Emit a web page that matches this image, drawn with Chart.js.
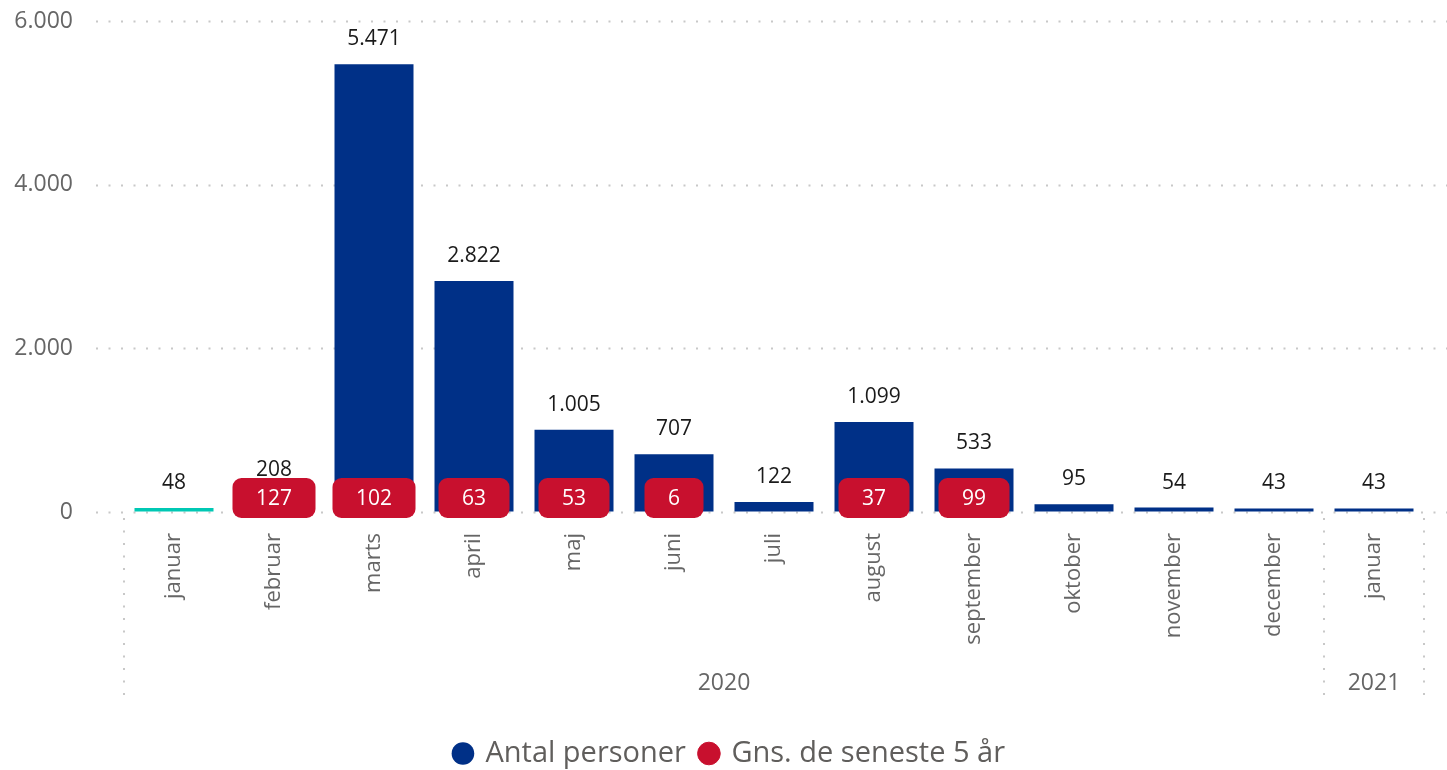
<!DOCTYPE html>
<html>
<head>
<meta charset="utf-8">
<title>Antal personer</title>
<script src="https://cdn.jsdelivr.net/npm/chart.js@4.4.1/dist/chart.umd.min.js"></script>
<style>
  html, body { margin: 0; padding: 0; background: #fff; }
  #wrap { width: 1447px; height: 770px; position: relative; }
</style>
</head>
<body>
<div id="wrap"><canvas id="barChart"></canvas></div>
<script>
// data
var months = ['januar', 'februar', 'marts', 'april', 'maj', 'juni', 'juli', 'august', 'september', 'oktober', 'november', 'december', 'januar'];
var yearLabels = ['2020', '2021'];
var monthsPerYear = [12, 1];
var antalPersoner = [48, 208, 5471, 2822, 1005, 707, 122, 1099, 533, 95, 54, 43, 43];
var gnsSeneste5Aar = [null, 127, 102, 63, 53, 6, null, 37, 99, null, null, null, null];
var yTicks = [0, 2000, 4000, 6000];

var BLUE = '#003087';
var TEAL = '#00c8b4';
var RED = '#c8102e';
var GREY = '#666666';
var DOTS = '#c8c8c8';
var FONT = '"Open Sans", "Noto Sans", sans-serif';

function fmt(v) {
    return String(v).replace(/\B(?=(\d{3})+(?!\d))/g, '.');
}

function dotted(ctx, x1, y1, x2, y2) {
    ctx.save();
    ctx.strokeStyle = DOTS;
    ctx.lineWidth = 2;
    ctx.setLineDash([2, 10.5]);
    ctx.beginPath();
    ctx.moveTo(x1, y1);
    ctx.lineTo(x2, y2);
    ctx.stroke();
    ctx.restore();
}

// dotted y grid, running a bit left of the plot like the original
var gridPlugin = {
    id: 'dotGrid',
    afterLayout: function(chart) {
        // legend sits a little right of centre and lower in the original
        chart.legend.left += 18;
        chart.legend.right += 18;
        chart.legend.top += 8;
        chart.legend.bottom += 8;
    },
    beforeDatasetsDraw: function(chart) {
        var y = chart.scales.y;
        var ctx = chart.ctx;
        y.ticks.forEach(function(t) {
            var py = Math.round(y.getPixelForValue(t.value)) + 0.5;
            dotted(ctx, chart.chartArea.left - 28, py, chart.width, py);
        });
    }
};

// year groups under the month labels
var yearPlugin = {
    id: 'years',
    afterDraw: function(chart) {
        var x = chart.scales.x;
        var ctx = chart.ctx;
        var half = (x.getPixelForValue(1) - x.getPixelForValue(0)) / 2;
        var top = chart.chartArea.bottom + 6;
        var bottom = chart.chartArea.bottom + 190;
        var start = 0;
        var bx = x.getPixelForValue(0) - half;
        dotted(ctx, bx, top, bx, bottom);
        yearLabels.forEach(function(lbl, i) {
            var end = start + monthsPerYear[i] - 1;
            var left = x.getPixelForValue(start) - half;
            var right = x.getPixelForValue(end) + half;
            dotted(ctx, right, top, right, bottom);
            ctx.save();
            ctx.fillStyle = GREY;
            ctx.font = '23px ' + FONT;
            ctx.textAlign = 'center';
            ctx.textBaseline = 'middle';
            ctx.fillText(lbl, (left + right) / 2, chart.chartArea.bottom + 171);
            ctx.restore();
            start = end + 1;
        });
    }
};

// value labels over bars and red boxes for the 5-year average
var labelPlugin = {
    id: 'valueLabels',
    afterDatasetsDraw: function(chart) {
        var ctx = chart.ctx;
        var y = chart.scales.y;
        var bars = chart.getDatasetMeta(0).data;
        ctx.save();
        ctx.font = '21px ' + FONT;
        ctx.textAlign = 'center';
        ctx.textBaseline = 'middle';
        ctx.fillStyle = '#1a1a1a';
        bars.forEach(function(bar, i) {
            ctx.fillText(fmt(antalPersoner[i]), bar.x, bar.y - 25);
        });
        var pts = chart.getDatasetMeta(1).data;
        var base = y.getPixelForValue(0);
        pts.forEach(function(p, i) {
            var v = gnsSeneste5Aar[i];
            if (v === null) return;
            var txt = fmt(v);
            var w = ctx.measureText(txt).width + 47;
            var h = 40;
            ctx.fillStyle = RED;
            ctx.beginPath();
            ctx.roundRect(p.x - w / 2, base - 14 - h / 2, w, h, 9);
            ctx.fill();
            ctx.fillStyle = '#ffffff';
            ctx.fillText(txt, p.x, base - 13);
        });
        ctx.restore();
    }
};

var chartDiv = document.getElementById('barChart');
var myChart = new Chart(chartDiv, {
    type: 'bar',
    data: {
        labels: months,
        datasets: [
            {
                label: 'Antal personer',
                data: antalPersoner,
                backgroundColor: function(c) { return c.dataIndex === 0 ? TEAL : BLUE; },
                barPercentage: 0.79,
                categoryPercentage: 1
            },
            {
                type: 'line',
                label: 'Gns. de seneste 5 år',
                data: gnsSeneste5Aar,
                showLine: false,
                pointRadius: 0,
                backgroundColor: RED,
                borderColor: RED
            }
        ]
    },
    options: {
        responsive: true,
        maintainAspectRatio: false,
        animation: false,
        layout: { padding: { top: 21, right: 23, left: 0, bottom: 0 } },
        scales: {
            x: {
                grid: { display: false },
                border: { display: false },
                ticks: {
                    autoSkip: false,
                    minRotation: 90,
                    maxRotation: 90,
                    padding: 13,
                    color: GREY,
                    font: { family: FONT, size: 22 }
                },
                afterFit: function(s) { s.height = 204; }
            },
            y: {
                min: yTicks[0],
                max: yTicks[yTicks.length - 1],
                grid: { color: 'transparent', tickColor: 'transparent', drawTicks: true, tickLength: 46 },
                border: { display: false },
                ticks: {
                    stepSize: yTicks[1] - yTicks[0],
                    padding: 5,
                    color: GREY,
                    font: { family: FONT, size: 23 },
                    callback: function(v) { return fmt(v); }
                },
                afterFit: function(s) { s.width = 124; }
            }
        },
        plugins: {
            tooltip: { enabled: false },
            legend: {
                position: 'bottom',
                labels: {
                    usePointStyle: true,
                    pointStyle: 'circle',
                    boxWidth: 16,
                    boxHeight: 16,
                    padding: 15,
                    color: '#605e5c',
                    font: { family: FONT, size: 29 },
                    generateLabels: function(chart) {
                        var items = Chart.defaults.plugins.legend.labels.generateLabels(chart);
                        items.forEach(function(it) {
                            if (it.datasetIndex === 0) {
                                it.fillStyle = BLUE;
                                it.strokeStyle = BLUE;
                            }
                        });
                        return items;
                    }
                }
            }
        }
    },
    plugins: [gridPlugin, yearPlugin, labelPlugin]
});
</script>
</body>
</html>
